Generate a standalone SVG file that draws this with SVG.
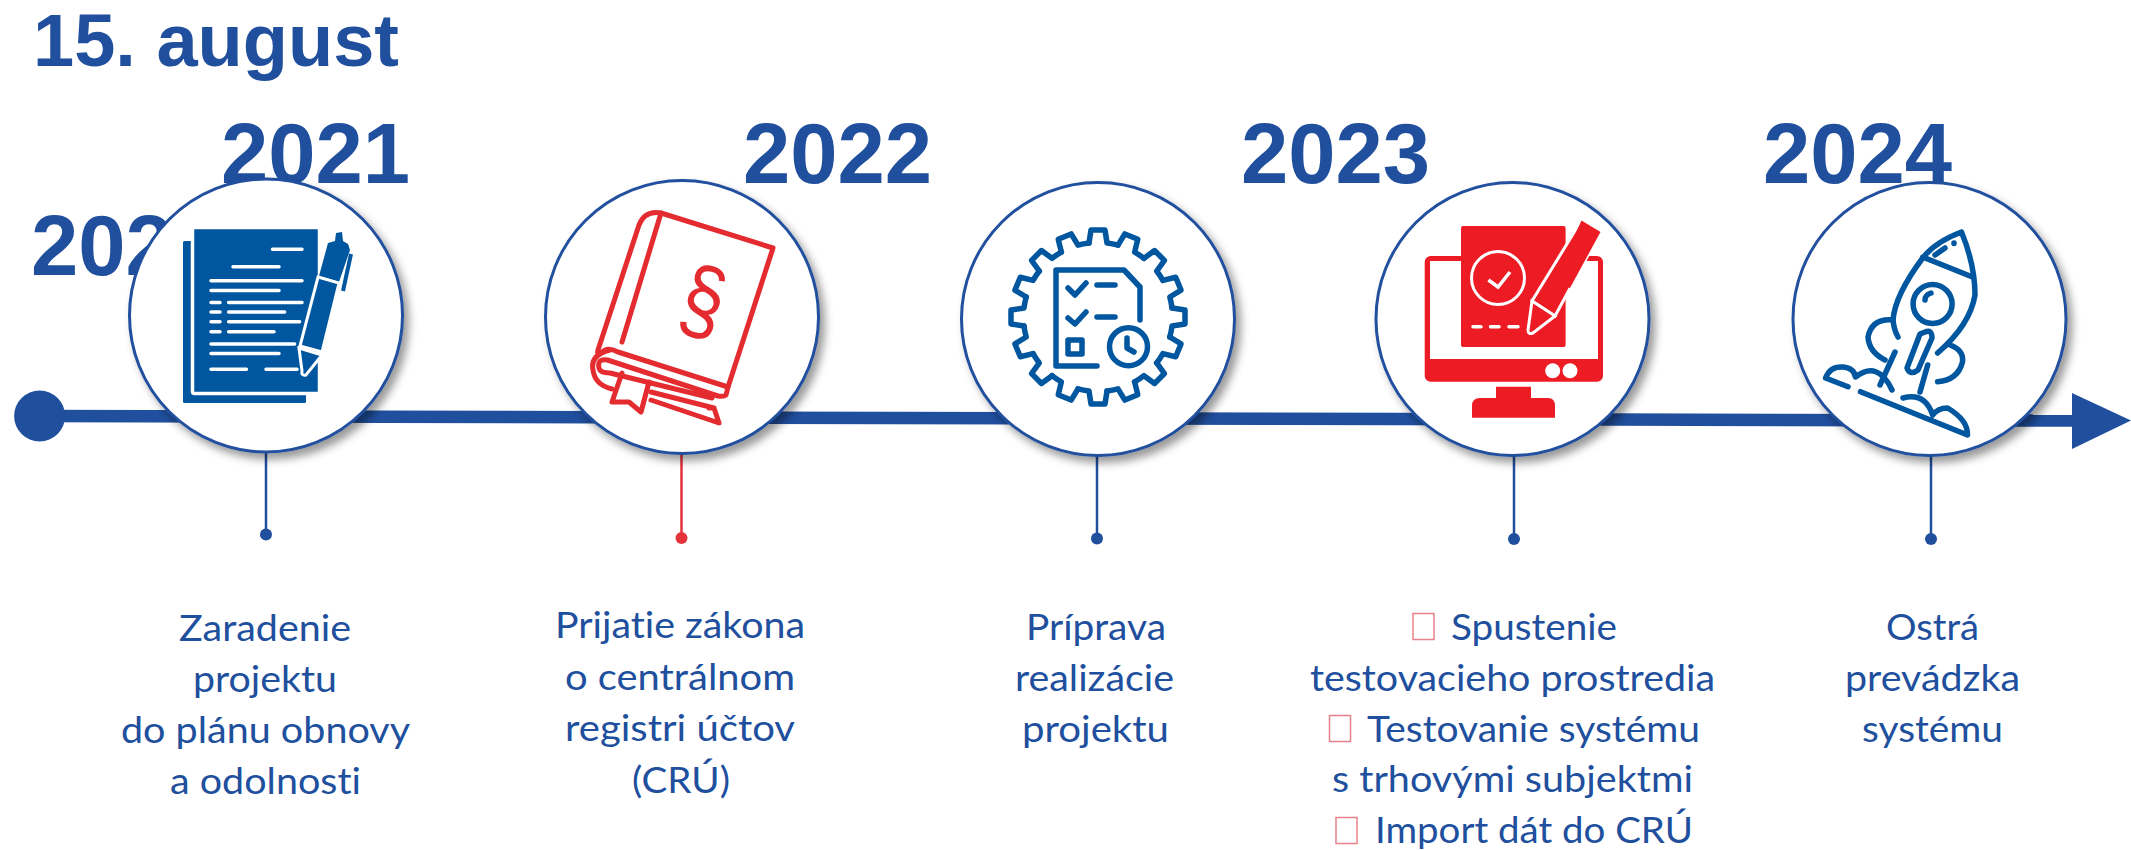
<svg xmlns="http://www.w3.org/2000/svg" xmlns:xlink="http://www.w3.org/1999/xlink" width="2131" height="850" viewBox="0 0 2131 850">
<style>
.yr{font-family:"Liberation Sans",Arial,sans-serif;font-weight:700;font-size:85px;fill:#204f9e}
.ttl{font-family:"Liberation Sans",Arial,sans-serif;font-weight:700;font-size:74px;fill:#204f9e}
.t{font-family:Lato,"Noto Sans",sans-serif;font-size:37px;fill:#204f9e;font-variant-ligatures:none}
.c{fill:#fff;stroke:#204f9e;stroke-width:3;filter:url(#sh)}
.stem{stroke:#204f9e;stroke-width:2.5;fill:none}
.dot{fill:#204f9e}
.box{fill:#fff;stroke:#e8818a;stroke-width:1.5}
.bl{fill:none;stroke:#00569f;stroke-width:5.5;stroke-linecap:round;stroke-linejoin:round}
.rd{fill:none;stroke:#e32b30;stroke-width:5;stroke-linecap:round;stroke-linejoin:round}
.w{stroke:#fff;stroke-width:3.5;stroke-linecap:round;fill:none}
</style>
<defs>
<filter id="sh" x="-20%" y="-20%" width="150%" height="150%"><feDropShadow dx="5" dy="6" stdDeviation="4" flood-color="#000" flood-opacity="0.4"/></filter>
<path id="tooth" d="M-9 -74L-7 -87L7 -87L9 -74A74 74 0 0 1 20 -71.8"/>
</defs>
<rect width="2131" height="850" fill="#fff"/>
<g id="labels">
<text class="ttl" x="33" y="66">15. august</text>
<text class="yr" x="31" y="275">202</text>
<text class="yr" x="221" y="183">2021</text>
<text class="yr" x="743" y="183">2022</text>
<text class="yr" x="1241" y="183">2023</text>
<text class="yr" x="1763" y="183">2024</text>
</g>
<g id="connectors">
<line x1="40" y1="416" x2="2080" y2="420.6" stroke="#204f9e" stroke-width="12.5"/>
<polygon points="2072,393 2131,420.5 2072,449" fill="#204f9e"/>
<circle cx="39.6" cy="416" r="25.5" fill="#204f9e"/>
<path class="stem" d="M266 451V534"/><circle class="dot" cx="266" cy="534.5" r="6"/>
<path class="stem" d="M681.500 453V537" style="stroke:#e5333a"/><circle cx="681.500" cy="538" r="6" fill="#e5333a"/>
<path class="stem" d="M1097 455V538"/><circle class="dot" cx="1097" cy="538.500" r="6"/>
<path class="stem" d="M1514 455V538"/><circle class="dot" cx="1514" cy="539" r="6"/>
<path class="stem" d="M1931 455V539"/><circle class="dot" cx="1931" cy="539" r="6"/>
</g>
<g id="node-2021">
<circle class="c" cx="266" cy="315.500" r="136.500"/>
<rect x="183" y="241" width="123" height="162" rx="1.500" fill="#00569f"/>
<rect x="192.500" y="227.500" width="127" height="166" rx="2" fill="#00569f" stroke="#fff" stroke-width="3.500"/>
<path class="w" d="M272.500 249.300H302M233 266.800H279M211 280.700H302M211 290.400H279M211 302.500H220M228.600 302.500H302M211 312H220M228.600 312H284.600M211 321.800H220M228.600 321.800H299.600M211 331.800H220M228.600 331.800H274M211 344H294.600M211 353.600H279M211 369.300H246.400M266 369.300H297"/>
<path d="M336 233L342 232L343 241L348 244L350 250L339 282L319 276L328 243L335 241Z" fill="#00569f"/>
<path d="M318 277L339 283L322 352L300 346Z" fill="#00569f" stroke="#fff" stroke-width="3"/>
<path d="M299 348L322 355L306 375Q301 376 302 371Z" fill="#00569f" stroke="#fff" stroke-width="3"/>
<path d="M351 254L343 291" stroke="#00569f" stroke-width="4" fill="none"/>
</g>
<g id="node-2022">
<circle class="c" cx="682" cy="317" r="136.500"/>
<path class="rd" d="M622 342L661 213L773 248L728 387"/>
<path class="rd" d="M661 213Q645 210 639 225L598 350Q596 357 605 350Q610 348 618 352L728 387L726 395Q724 397 718 396L607.500 360Q597 358 599 368Q600 373 610 373L712 398M610 350Q590 355 593 370Q595 385 612 389"/>
<path class="rd" d="M651 392L714 408L709 408M714 408L719 423L651 400"/>
<path class="rd" d="M622 373L612 402L629 402L641 412L649 382" stroke-width="4"/>
<text x="0" y="0" transform="translate(675 325) rotate(15) scale(.82 1)" font-family="Liberation Sans,Arial,sans-serif" font-size="92" fill="#e32b30">§</text>
</g>
<g id="node-prep">
<circle class="c" cx="1098" cy="319" r="136.500"/>
<g class="bl" transform="translate(1098 317)">
<use xlink:href="#tooth"/><use xlink:href="#tooth" transform="rotate(22.5)"/><use xlink:href="#tooth" transform="rotate(45)"/><use xlink:href="#tooth" transform="rotate(67.5)"/><use xlink:href="#tooth" transform="rotate(90)"/><use xlink:href="#tooth" transform="rotate(112.5)"/><use xlink:href="#tooth" transform="rotate(135)"/><use xlink:href="#tooth" transform="rotate(157.5)"/><use xlink:href="#tooth" transform="rotate(180)"/><use xlink:href="#tooth" transform="rotate(202.5)"/><use xlink:href="#tooth" transform="rotate(225)"/><use xlink:href="#tooth" transform="rotate(247.5)"/><use xlink:href="#tooth" transform="rotate(270)"/><use xlink:href="#tooth" transform="rotate(292.5)"/><use xlink:href="#tooth" transform="rotate(315)"/><use xlink:href="#tooth" transform="rotate(337.5)"/>
</g>
<path class="bl" d="M1097 366H1056V270H1124L1140 287V320M1068 288L1075 295L1086 283M1068 318L1075 324L1086 312M1097 285H1115M1097 317H1115M1127 338V348L1134 352"/>
<rect class="bl" x="1068" y="340" width="14" height="14"/>
<circle class="bl" cx="1128.500" cy="346.700" r="19"/>
</g>
<g id="node-2023">
<circle class="c" cx="1512.500" cy="319" r="136.500"/>
<rect x="1424.700" y="256" width="178.300" height="125.700" rx="6" fill="#ed1c24"/>
<rect x="1430" y="261" width="168" height="98" fill="#fff"/>
<rect x="1461" y="226" width="104.600" height="121" rx="2" fill="#ed1c24"/>
<circle cx="1498" cy="278" r="26.500" fill="none" stroke="#fff" stroke-width="3"/>
<path d="M1488.400 280L1498 287L1510 272" fill="none" stroke="#fff" stroke-width="3.500"/>
<path class="w" d="M1473 326.700H1481M1490.500 326.700H1499M1509 326.700H1518"/>
<path d="M1581 221L1600.500 232L1555 316L1532 301Z" fill="#ed1c24" stroke="#fff" stroke-width="3"/>
<path d="M1581.500 220.500L1600.500 232L1570 288L1553 282Z" fill="#ed1c24"/>
<path d="M1532 301L1555 316L1533 333Q1528 335 1528 330Z" fill="#ed1c24" stroke="#fff" stroke-width="3"/>
<circle cx="1552.700" cy="370.700" r="7.500" fill="#fff"/><circle cx="1570" cy="370.700" r="7.500" fill="#fff"/>
<path d="M1496 386.700H1531V398H1548Q1555 398 1555 406V417.700H1472V406Q1472 398 1480 398H1496Z" fill="#ed1c24"/>
</g>
<g id="node-2024">
<circle class="c" cx="1929.500" cy="319" r="136.500"/>
<path class="bl" d="M1961.500 232Q1935 242 1922.700 258Q1895 295 1893 320Q1894 330 1898 337M1961.500 232Q1975 265 1975 295Q1970 325 1937.600 353M1922.700 257L1972.500 277"/>
<path class="bl" stroke-width="3.500" d="M1935 255L1945 248M1954 243V243.500"/>
<circle class="bl" cx="1932.600" cy="304" r="19.500"/>
<path class="bl" stroke-width="3.500" d="M1925 300Q1925 295 1931 293"/>
<path class="bl" d="M1893 320Q1872 318 1868 337Q1869 352 1885 360M1950 345Q1964 350 1962.500 362Q1958 380 1937.600 381.700"/>
<path class="bl" d="M1925 332Q1932 329 1932 338L1918 370Q1910 376 1907 368L1920 334ZM1895 352L1880 385M1927.700 365L1920 392"/>
<path class="bl" d="M1848 386.700L1825.600 378Q1830 366 1843 367Q1854 368 1855.500 377Q1878 360 1892 390M1860.500 391.700L1967.500 435Q1968 420 1947.600 408Q1938 408 1932.600 415Q1925 392 1903 398"/>
</g>
<g id="text-1">
<text class="t" x="179" y="641" textLength="172" lengthAdjust="spacingAndGlyphs">Zaradenie</text>
<text class="t" x="193" y="692" textLength="144" lengthAdjust="spacingAndGlyphs">projektu</text>
<text class="t" x="121" y="743" textLength="289" lengthAdjust="spacingAndGlyphs">do plánu obnovy</text>
<text class="t" x="170" y="794" textLength="191" lengthAdjust="spacingAndGlyphs">a odolnosti</text>
</g>
<g id="text-2">
<text class="t" x="555" y="638" textLength="250" lengthAdjust="spacingAndGlyphs">Prijatie zákona</text>
<text class="t" x="565" y="690" textLength="230" lengthAdjust="spacingAndGlyphs">o centrálnom</text>
<text class="t" x="565" y="741" textLength="230" lengthAdjust="spacingAndGlyphs">registri účtov</text>
<text class="t" x="632" y="793" textLength="98" lengthAdjust="spacingAndGlyphs">(CRÚ)</text>
</g>
<g id="text-3">
<text class="t" x="1026" y="640" textLength="140" lengthAdjust="spacingAndGlyphs">Príprava</text>
<text class="t" x="1015" y="691" textLength="159" lengthAdjust="spacingAndGlyphs">realizácie</text>
<text class="t" x="1022" y="742" textLength="147" lengthAdjust="spacingAndGlyphs">projektu</text>
</g>
<g id="text-4">
<rect class="box" x="1413" y="613.500" width="21" height="26"/>
<text class="t" x="1451" y="640" textLength="166" lengthAdjust="spacingAndGlyphs">Spustenie</text>
<text class="t" x="1310" y="691" textLength="405" lengthAdjust="spacingAndGlyphs">testovacieho prostredia</text>
<rect class="box" x="1329.500" y="715.500" width="21" height="26"/>
<text class="t" x="1367" y="742" textLength="333" lengthAdjust="spacingAndGlyphs">Testovanie systému</text>
<text class="t" x="1332" y="792" textLength="361" lengthAdjust="spacingAndGlyphs">s trhovými subjektmi</text>
<rect class="box" x="1336" y="817.500" width="21" height="26"/>
<text class="t" x="1375" y="843" textLength="318" lengthAdjust="spacingAndGlyphs">Import dát do CRÚ</text>
</g>
<g id="text-5">
<text class="t" x="1886" y="640" textLength="93" lengthAdjust="spacingAndGlyphs">Ostrá</text>
<text class="t" x="1845" y="691" textLength="175" lengthAdjust="spacingAndGlyphs">prevádzka</text>
<text class="t" x="1862" y="742" textLength="141" lengthAdjust="spacingAndGlyphs">systému</text>
</g>
</svg>
